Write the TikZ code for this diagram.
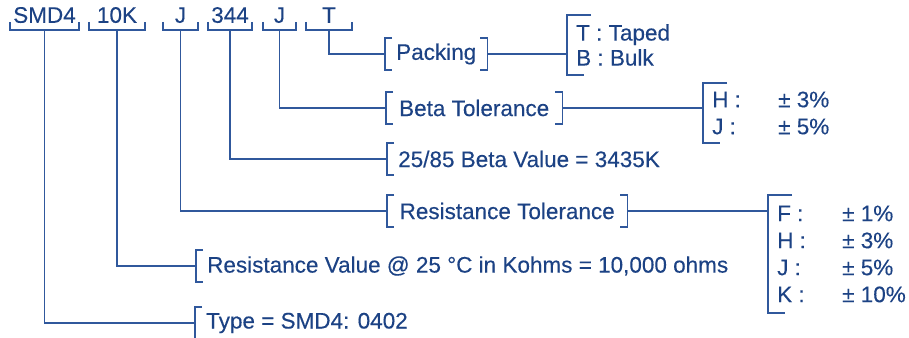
\documentclass[tikz,border=0pt]{standalone}
\usepackage{fontspec}
\setmainfont{Liberation Sans}
\definecolor{vtext}{RGB}{28,66,132}
\definecolor{vline}{RGB}{48,88,156}
\tikzset{
  lbl/.style={text=vtext, font=\fontsize{22.5}{27}\selectfont\addfontfeatures{FakeBold=0.25}},
  code/.style={lbl, anchor=south, inner xsep=0pt, inner ysep=7pt, text depth=0pt},
  desc/.style={lbl, anchor=west, inner xsep=11pt, inner ysep=0pt, minimum height=32pt},
  opts/.style={lbl, anchor=west, inner xsep=9pt, inner ysep=0pt, align=left},
  wire/.style={draw=vline, line width=1.6pt},
}
\begin{document}
\begin{tikzpicture}[x=1pt,y=-1pt]
\useasboundingbox (0,0) rectangle (909,337);
\node[code, minimum width=69pt] (cSMD) at (44.5,30) {SMD4};
\node[code, minimum width=56pt] (cRes) at (117,30) {10K};
\node[code, minimum width=35pt] (cTol) at (180.5,30) {J};
\node[code, minimum width=44pt] (cBeta) at (230,30) {344};
\node[code, minimum width=33pt] (cBTol) at (279.5,30) {J};
\node[code, minimum width=46pt] (cPack) at (329,30) {T};
\node[desc, minimum width=102pt] (dPack) at (385,54) {Packing};
\node[desc, minimum width=176pt] (dBTol) at (386,108) {Beta Tolerance};
\node[desc] (dBeta) at (387,159) {25/85 Beta Value = 3435K};
\node[desc, minimum width=240pt] (dTol) at (387,211) {Resistance Tolerance};
\node[desc] (dRes) at (196,266) {Resistance Value @ 25 °C in Kohms = 10,000 ohms};
\node[desc] (dType) at (195,323) {Type = SMD4: 0402};
\node[opts, minimum height=60pt] (oPack) at (567,45) {T : Taped\\[-2pt]B : Bulk};
\node[opts, minimum height=60pt] (oBTol) at (703,113) {\makebox[66pt][l]{H :}± 3\%\\\makebox[66pt][l]{J :}± 5\%};
\node[opts, minimum height=118pt] (oTol) at (768,254) {\makebox[65pt][l]{F :}± 1\%\\\makebox[65pt][l]{H :}± 3\%\\\makebox[65pt][l]{J :}± 5\%\\\makebox[65pt][l]{K :}± 10\%};
\draw[wire] (cSMD.south west) ++(0,-8) |- (cSMD.south east) -- ++(0,-8);
\draw[wire] (cRes.south west) ++(0,-8) |- (cRes.south east) -- ++(0,-8);
\draw[wire] (cTol.south west) ++(0,-8) |- (cTol.south east) -- ++(0,-8);
\draw[wire] (cBeta.south west) ++(0,-8) |- (cBeta.south east) -- ++(0,-8);
\draw[wire] (cBTol.south west) ++(0,-8) |- (cBTol.south east) -- ++(0,-8);
\draw[wire] (cPack.south west) ++(0,-8) |- (cPack.south east) -- ++(0,-8);
\draw[wire] (dPack.north west) ++(7,0) -| (dPack.south west) -- ++(7,0);
\draw[wire] (dBTol.north west) ++(7,0) -| (dBTol.south west) -- ++(7,0);
\draw[wire] (dBeta.north west) ++(7,0) -| (dBeta.south west) -- ++(7,0);
\draw[wire] (dTol.north west) ++(7,0) -| (dTol.south west) -- ++(7,0);
\draw[wire] (dRes.north west) ++(7,0) -| (dRes.south west) -- ++(7,0);
\draw[wire] (dType.north west) ++(7,0) -| (dType.south west) -- ++(7,0);
\draw[wire] (dPack.north east) ++(-7,0) -| (dPack.south east) -- ++(-7,0);
\draw[wire] (dBTol.north east) ++(-7,0) -| (dBTol.south east) -- ++(-7,0);
\draw[wire] (dTol.north east) ++(-7,0) -| (dTol.south east) -- ++(-7,0);
\draw[wire] (oPack.north west) ++(24,0) -| (oPack.south west) -- ++(17,0);
\draw[wire] (oBTol.north west) ++(24,0) -| (oBTol.south west) -- ++(17,0);
\draw[wire] (oTol.north west) ++(24,0) -| (oTol.south west) -- ++(17,0);
\draw[wire] (cSMD.south) |- (dType.west);
\draw[wire] (cRes.south) |- (dRes.west);
\draw[wire] (cTol.south) |- (dTol.west);
\draw[wire] (cBeta.south) |- (dBeta.west);
\draw[wire] (cBTol.south) |- (dBTol.west);
\draw[wire] (cPack.south) |- (dPack.west);
\draw[wire] (dPack.east) -- (dPack.east -| oPack.west);
\draw[wire] (dBTol.east) -- (dBTol.east -| oBTol.west);
\draw[wire] (dTol.east) -- (dTol.east -| oTol.west);
\end{tikzpicture}
\end{document}
